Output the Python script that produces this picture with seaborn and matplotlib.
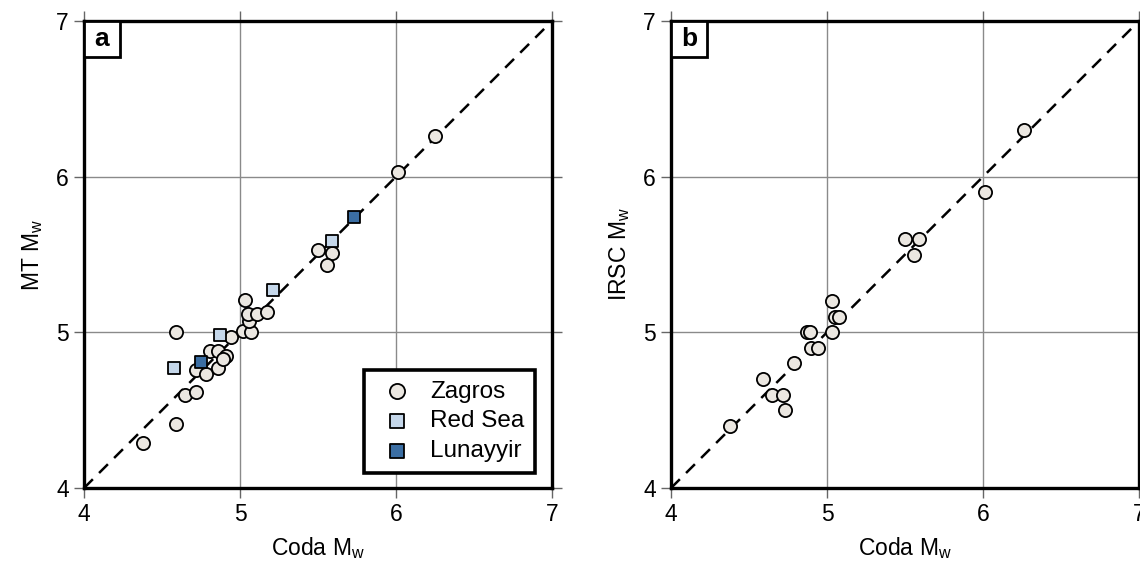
import pandas as pd
import seaborn as sns
import matplotlib.pyplot as plt
from matplotlib.patches import Rectangle

# Panel a: coda Mw vs moment tensor Mw
zagros_coda = [4.38, 4.59, 4.65, 4.72, 4.72, 4.78, 4.86, 4.81, 4.86, 4.91, 4.89, 4.59, 4.94,
               5.02, 5.07, 5.06, 5.05, 5.11, 5.17, 5.03, 5.50, 5.59, 5.56, 6.01, 6.25]
zagros_mt = [4.29, 4.41, 4.60, 4.62, 4.76, 4.73, 4.77, 4.88, 4.88, 4.85, 4.83, 5.00, 4.97,
             5.01, 5.00, 5.07, 5.12, 5.12, 5.13, 5.21, 5.53, 5.51, 5.43, 6.03, 6.26]
redsea_coda = [4.58, 4.87, 5.21, 5.59]
redsea_mt = [4.77, 4.98, 5.27, 5.59]
lunayyir_coda = [4.75, 5.73]
lunayyir_mt = [4.81, 5.74]

# Panel b: coda Mw vs IRSC Mw (Zagros only)
irsc_coda = [4.38, 4.59, 4.65, 4.72, 4.73, 4.79, 4.87, 4.89, 4.90, 4.94, 5.03, 5.03, 5.05,
             5.08, 5.50, 5.59, 5.56, 6.01, 6.26]
irsc_mw = [4.40, 4.70, 4.60, 4.60, 4.50, 4.80, 5.00, 5.00, 4.90, 4.90, 5.00, 5.20, 5.10,
           5.10, 5.60, 5.60, 5.50, 5.90, 6.30]

lims = [4, 7]
ticks = [4, 5, 6, 7]

c_zagros = "#ebe7e1"
c_redsea = "#c5d7ea"
c_lunayyir = "#3b6ea3"

sns.set_style("white")
plt.rcParams["font.family"] = ["Liberation Sans", "DejaVu Sans"]
plt.rcParams["mathtext.default"] = "regular"
plt.rcParams["text.color"] = "black"
plt.rcParams["axes.labelcolor"] = "black"
plt.rcParams["xtick.labelcolor"] = "black"
plt.rcParams["ytick.labelcolor"] = "black"

fig = plt.figure(figsize=(11.4, 5.73), dpi=100)
ax_a = fig.add_axes([0.0737, 0.1483, 0.4105, 0.815])
ax_b = fig.add_axes([0.5886, 0.1483, 0.4105, 0.815])


def style_axes(ax, label, ylabel):
    ax.set_xlim(lims)
    ax.set_ylim(lims)
    ax.set_xticks(ticks)
    ax.set_yticks(ticks)
    ax.grid(True, color="#8a8a8a", linewidth=1.0)
    ax.set_axisbelow(True)
    ax.plot(lims, lims, color="black", linestyle=(0, (5, 3.5)), linewidth=1.8, zorder=2)
    for sp in ax.spines.values():
        sp.set_visible(True)
        sp.set_color("black")
        sp.set_linewidth(2.4)
    ax.tick_params(direction="out", length=7, width=1.0, color="#666666",
                   labelsize=16.5, top=True, right=True, bottom=True, left=True,
                   labeltop=False, labelright=False, pad=4)
    ax.set_xlabel("Coda M$_{w}$", fontsize=16.5, labelpad=6)
    ax.set_ylabel(ylabel, fontsize=16.5, labelpad=8)
    ax.add_patch(Rectangle((0, 1 - 0.077), 0.077, 0.077, transform=ax.transAxes,
                           facecolor="white", edgecolor="black", linewidth=2.0, zorder=5,
                           clip_on=False))
    ax.text(0.0385, 1 - 0.0385, label, transform=ax.transAxes, ha="center", va="center",
            fontsize=19, fontweight="bold", zorder=6)


style_axes(ax_a, "a", "MT M$_{w}$")
style_axes(ax_b, "b", "IRSC M$_{w}$")

sns.scatterplot(x=zagros_coda, y=zagros_mt, ax=ax_a, marker="o", s=90,
                color=c_zagros, edgecolor="black", linewidth=1.3, zorder=3, label="Zagros")
sns.scatterplot(x=redsea_coda, y=redsea_mt, ax=ax_a, marker="s", s=75,
                color=c_redsea, edgecolor="black", linewidth=1.3, zorder=4, label="Red Sea")
sns.scatterplot(x=lunayyir_coda, y=lunayyir_mt, ax=ax_a, marker="s", s=75,
                color=c_lunayyir, edgecolor="black", linewidth=1.3, zorder=4, label="Lunayyir")

sns.scatterplot(x=irsc_coda, y=irsc_mw, ax=ax_b, marker="o", s=90,
                color=c_zagros, edgecolor="black", linewidth=1.3, zorder=3, legend=False)

leg = ax_a.legend(loc="lower right", bbox_to_anchor=(0.964, 0.032), borderaxespad=0,
                  fontsize=17.5, frameon=True, fancybox=False, framealpha=1,
                  edgecolor="black", borderpad=0.45, handletextpad=0.45,
                  labelspacing=0.32, handlelength=1.8, markerscale=1.15)
leg.get_frame().set_linewidth(2.6)
leg.set_zorder(10)

plt.savefig("out.png", dpi=100)
